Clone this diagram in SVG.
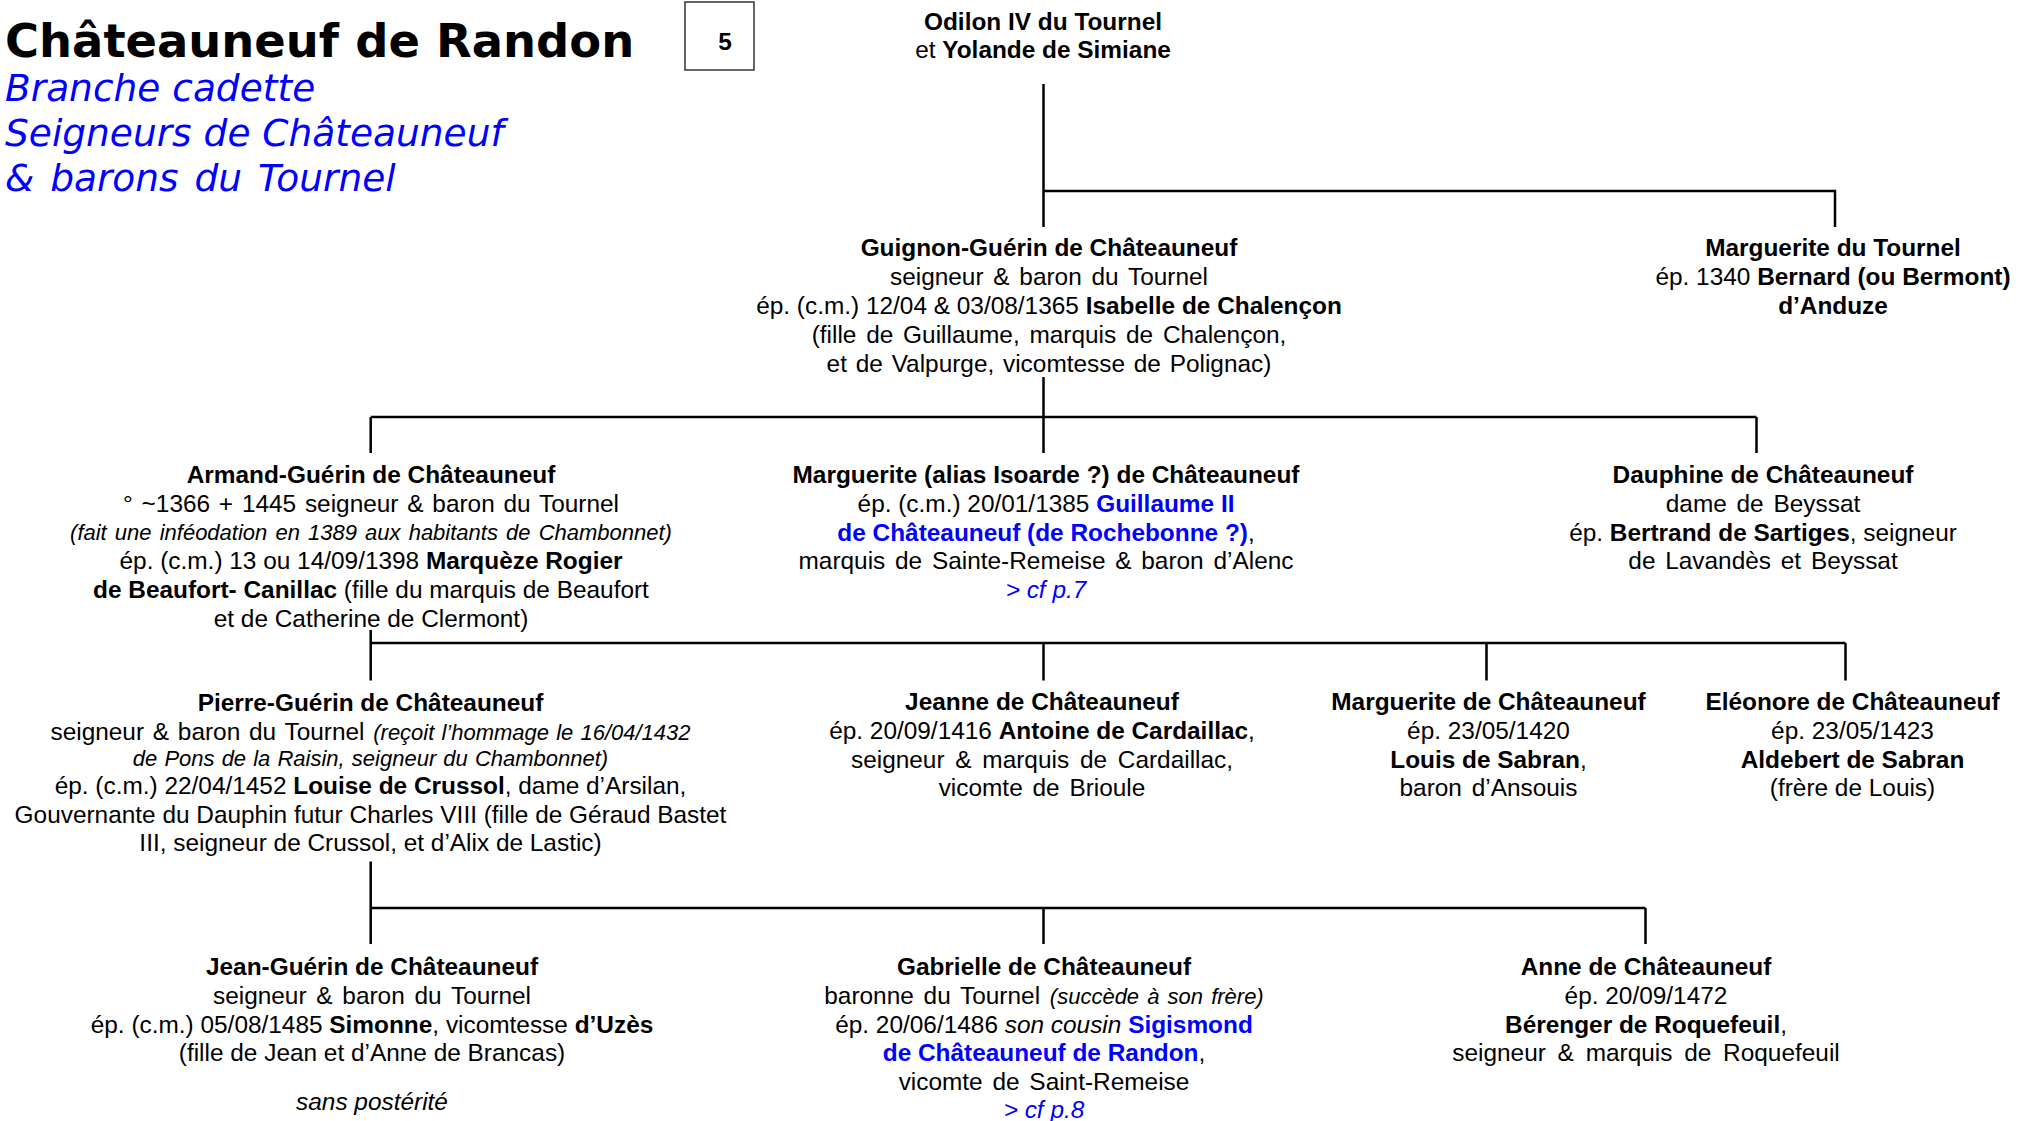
<svg xmlns="http://www.w3.org/2000/svg" width="2025" height="1121" viewBox="0 0 2025 1121">
<style>
.t{font-family:"Liberation Sans",Arial,sans-serif;font-size:24.4px;fill:#000;text-anchor:middle}
.b{font-weight:bold}
.i{font-style:italic}
.s{font-size:22px}
.bl{fill:#0000ff}
.ln{stroke:#000;stroke-width:2.5;fill:none}
.hd{font-family:"DejaVu Sans",Verdana,sans-serif}
</style>
<rect width="2025" height="1121" fill="#fff"/>
<g id="header">
<text class="hd" x="5" y="57" font-size="46.4" font-weight="bold" fill="#000">Châteauneuf de Randon</text>
<text class="hd" x="5" y="101" font-size="37.5" font-style="italic" fill="#0000ff">Branche cadette</text>
<text class="hd" x="5" y="146" font-size="37.5" font-style="italic" fill="#0000ff">Seigneurs de Châteauneuf</text>
<text class="hd" x="5" y="191" font-size="37.5" font-style="italic" fill="#0000ff" word-spacing="4">&amp; barons du Tournel</text>
<rect x="685" y="2" width="69" height="68" fill="#fff" stroke="#333" stroke-width="1.5"/>
<text class="t b" x="725" y="50" font-size="25">5</text>
</g>
<g id="connectors">
<path class="ln" d="M1043.5,84V227M1043.5,191H1835V227"/>
<path class="ln" d="M1043.5,377V453M370.7,417H1756.5M370.7,417V453M1756.5,417V453"/>
<path class="ln" d="M370.7,630V680.6M370.7,643H1845.5M1043.5,643V680.6M1486.5,643V680.6M1845.5,643V680.6"/>
<path class="ln" d="M370.7,861.5V944M370.7,908H1645.5M1043.5,908V944M1645.5,908V944"/>
</g>
<g id="odilon">
<text class="t b" x="1043" y="30">Odilon IV du Tournel</text>
<text class="t" x="1043" y="58">et <tspan class="b">Yolande de Simiane</tspan></text>
</g>
<g id="guignon">
<text class="t b" x="1049" y="256">Guignon-Guérin de Châteauneuf</text>
<text class="t" x="1049" y="285" word-spacing="3">seigneur &amp; baron du Tournel</text>
<text class="t" x="1049" y="314">ép. (c.m.) 12/04 &amp; 03/08/1365 <tspan class="b">Isabelle de Chalençon</tspan></text>
<text class="t" x="1049" y="342.5" word-spacing="3">(fille de Guillaume, marquis de Chalençon,</text>
<text class="t" x="1049" y="371.5" word-spacing="2">et de Valpurge, vicomtesse de Polignac)</text>
</g>
<g id="marguerite-tournel">
<text class="t b" x="1833" y="256">Marguerite du Tournel</text>
<text class="t" x="1833" y="285">ép. 1340 <tspan class="b">Bernard (ou Bermont)</tspan></text>
<text class="t b" x="1833" y="314">d’Anduze</text>
</g>
<g id="armand">
<text class="t b" x="371" y="483">Armand-Guérin de Châteauneuf</text>
<text class="t" x="371" y="512" word-spacing="2">° ~1366 + 1445 seigneur &amp; baron du Tournel</text>
<text class="t i s" x="371" y="540" word-spacing="2">(fait une inféodation en 1389 aux habitants de Chambonnet)</text>
<text class="t" x="371" y="569">ép. (c.m.) 13 ou 14/09/1398 <tspan class="b">Marquèze Rogier</tspan></text>
<text class="t" x="371" y="598"><tspan class="b">de Beaufort- Canillac</tspan> (fille du marquis de Beaufort</text>
<text class="t" x="371" y="627">et de Catherine de Clermont)</text>
</g>
<g id="marguerite-isoarde">
<text class="t b" x="1046" y="483">Marguerite (alias Isoarde ?) de Châteauneuf</text>
<text class="t" x="1046" y="512">ép. (c.m.) 20/01/1385 <tspan class="b bl">Guillaume II</tspan></text>
<text class="t" x="1046" y="541"><tspan class="b bl">de Châteauneuf (de Rochebonne ?)</tspan>,</text>
<text class="t" x="1046" y="569" word-spacing="3">marquis de Sainte-Remeise &amp; baron d’Alenc</text>
<text class="t i bl" x="1046" y="598">&gt; cf p.7</text>
</g>
<g id="dauphine">
<text class="t b" x="1763" y="483">Dauphine de Châteauneuf</text>
<text class="t" x="1763" y="512" word-spacing="3">dame de Beyssat</text>
<text class="t" x="1763" y="541">ép. <tspan class="b">Bertrand de Sartiges</tspan>, seigneur</text>
<text class="t" x="1763" y="569" word-spacing="3">de Lavandès et Beyssat</text>
</g>
<g id="pierre">
<text class="t b" x="370.5" y="711">Pierre-Guérin de Châteauneuf</text>
<text class="t" x="370.5" y="740" word-spacing="2">seigneur &amp; baron du Tournel <tspan class="i s" word-spacing="1">(reçoit l’hommage le 16/04/1432</tspan></text>
<text class="t i s" x="370.5" y="766" word-spacing="1">de Pons de la Raisin, seigneur du Chambonnet)</text>
<text class="t" x="370.5" y="794">ép. (c.m.) 22/04/1452 <tspan class="b">Louise de Crussol</tspan>, dame d’Arsilan,</text>
<text class="t" x="370.5" y="823">Gouvernante du Dauphin futur Charles VIII (fille de Géraud Bastet</text>
<text class="t" x="370.5" y="851">III, seigneur de Crussol, et d’Alix de Lastic)</text>
</g>
<g id="jeanne">
<text class="t b" x="1042" y="710">Jeanne de Châteauneuf</text>
<text class="t" x="1042" y="739">ép. 20/09/1416 <tspan class="b">Antoine de Cardaillac</tspan>,</text>
<text class="t" x="1042" y="767.5" word-spacing="4">seigneur &amp; marquis de Cardaillac,</text>
<text class="t" x="1042" y="796" word-spacing="3">vicomte de Brioule</text>
</g>
<g id="marguerite-sabran">
<text class="t b" x="1488.5" y="710">Marguerite de Châteauneuf</text>
<text class="t" x="1488.5" y="739">ép. 23/05/1420</text>
<text class="t" x="1488.5" y="767.5"><tspan class="b">Louis de Sabran</tspan>,</text>
<text class="t" x="1488.5" y="796" word-spacing="3">baron d’Ansouis</text>
</g>
<g id="eleonore">
<text class="t b" x="1852.5" y="710">Eléonore de Châteauneuf</text>
<text class="t" x="1852.5" y="739">ép. 23/05/1423</text>
<text class="t b" x="1852.5" y="767.5">Aldebert de Sabran</text>
<text class="t" x="1852.5" y="796">(frère de Louis)</text>
</g>
<g id="jean">
<text class="t b" x="372" y="974.5">Jean-Guérin de Châteauneuf</text>
<text class="t" x="372" y="1003.5" word-spacing="3">seigneur &amp; baron du Tournel</text>
<text class="t" x="372" y="1032.5">ép. (c.m.) 05/08/1485 <tspan class="b">Simonne</tspan>, vicomtesse <tspan class="b">d’Uzès</tspan></text>
<text class="t" x="372" y="1061">(fille de Jean et d’Anne de Brancas)</text>
<text class="t i" x="372" y="1110">sans postérité</text>
</g>
<g id="gabrielle">
<text class="t b" x="1044" y="974.5">Gabrielle de Châteauneuf</text>
<text class="t" x="1044" y="1003.5" word-spacing="3">baronne du Tournel <tspan class="i s" word-spacing="2">(succède à son frère)</tspan></text>
<text class="t" x="1044" y="1032.5">ép. 20/06/1486 <tspan class="i">son cousin</tspan> <tspan class="b bl">Sigismond</tspan></text>
<text class="t" x="1044" y="1061"><tspan class="b bl">de Châteauneuf de Randon</tspan>,</text>
<text class="t" x="1044" y="1089.5" word-spacing="3">vicomte de Saint-Remeise</text>
<text class="t i bl" x="1044" y="1118">&gt; cf p.8</text>
</g>
<g id="anne">
<text class="t b" x="1646" y="974.5">Anne de Châteauneuf</text>
<text class="t" x="1646" y="1003.5">ép. 20/09/1472</text>
<text class="t" x="1646" y="1032.5"><tspan class="b">Bérenger de Roquefeuil</tspan>,</text>
<text class="t" x="1646" y="1061" word-spacing="5">seigneur &amp; marquis de Roquefeuil</text>
</g>
</svg>
